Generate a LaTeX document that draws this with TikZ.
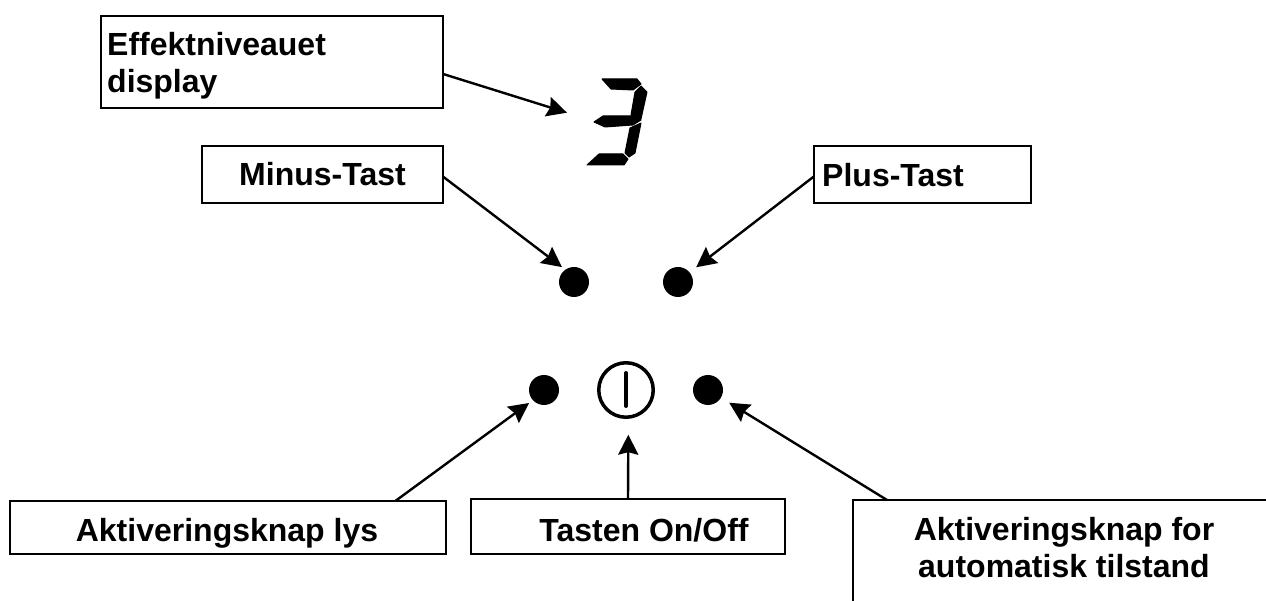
\documentclass[tikz,border=0pt]{standalone}
\usepackage{fontspec}
\setmainfont{Liberation Sans}
\usetikzlibrary{arrows.meta}
\tikzset{
  lbl/.style={inner sep=0pt,font=\fontsize{32}{37}\selectfont\bfseries,align=center},
  lblleft/.style={lbl,align=left},
  boxline/.style={draw=black,line width=2.2pt},
  labelbox/.style={boxline,rectangle,inner sep=0pt,outer sep=0pt},
  conn/.style={draw=black,line width=2.4pt,-{Stealth[length=20pt,width=20pt,inset=2.5pt]}},
  dot/.style={circle,fill=black,inner sep=0pt,minimum size=30pt},
  seg/.style={fill=black,draw=black,line width=1pt,line join=round}
}
\begin{document}
\begin{tikzpicture}[x=1pt,y=-1pt]
\useasboundingbox (0,0) rectangle (1266,601);
% boxes
\node[labelbox,minimum width=342pt,minimum height=92pt] (boxeff) at (272,62) {};
\node[labelbox,minimum width=241pt,minimum height=57pt] (boxminus) at (322.5,174.5) {};
\node[labelbox,minimum width=217pt,minimum height=57pt] (boxplus) at (922.5,174.5) {};
\node[labelbox,minimum width=436pt,minimum height=53pt] (boxlys) at (228,527.5) {};
\node[labelbox,minimum width=314pt,minimum height=55pt] (boxon) at (628,526.5) {};
\draw[boxline] (853,601) -- (853,500) -- (1266,500);
\coordinate (autostart) at (887,500);
% labels
\node[lblleft,anchor=west] (teff) at (107,66) {Effektniveauet\\display};
\node[lbl,anchor=base] (tminus) at (322.5,186) {Minus-Tast};
\node[lbl,anchor=base west] (tplus) at (822,187) {Plus-Tast};
\node[lbl,anchor=base] (tlys) at (227,541) {Aktiveringsknap lys};
\node[lbl,anchor=base] (ton) at (644,541) {Tasten On/Off};
\node[lbl] (tauto) at (1064,548) {Aktiveringsknap for\\automatisk tilstand};
% buttons
\node[dot,outer sep=4.2pt] (minus) at (574,282) {};
\node[dot,outer sep=8.4pt] (plus) at (678,282) {};
\node[dot,outer sep=4.8pt] (lys) at (544,390) {};
\node[dot,outer sep=9.7pt] (auto) at (708,390) {};
\node[circle,draw=black,line width=3.5pt,minimum size=54.5pt,inner sep=0pt,outer sep=17.5pt] (power) at (626,390) {};
\draw[black,line width=4pt,line cap=round] (626,373) -- (626,406);
% digit
\node[rectangle,inner sep=0pt,minimum width=60pt,minimum height=87pt,outer sep=20pt] (digit) at (617,121.5) {};
\fill[seg] (602,79) -- (637,79) -- (641,84) -- (633,90) -- (611,89) -- cycle;
\fill[seg] (641,86) -- (647,92) -- (641,119) -- (631,115) -- (635,92) -- cycle;
\fill[seg] (594,122) -- (603,116) -- (635,116) -- (641,120) -- (633,125) -- (605,127) -- cycle;
\fill[seg] (641,123) -- (635,153) -- (629,157) -- (625,153) -- (630,128) -- cycle;
\fill[seg] (587,165) -- (599,154) -- (623,154) -- (628,159) -- (624,165) -- cycle;
% connectors
\draw[conn] (boxeff.-4) -- (digit.170.4);
\draw[conn] (boxminus.-1.7) -- (minus.129);
\draw[conn] (boxplus.181.9) -- (plus.39.8);
\draw[conn] (boxlys.9) -- (lys.221);
\draw[conn] (boxon.north) -- (power.-87.5);
\draw[conn] (autostart) -- (auto.-31.8);
\end{tikzpicture}
\end{document}
